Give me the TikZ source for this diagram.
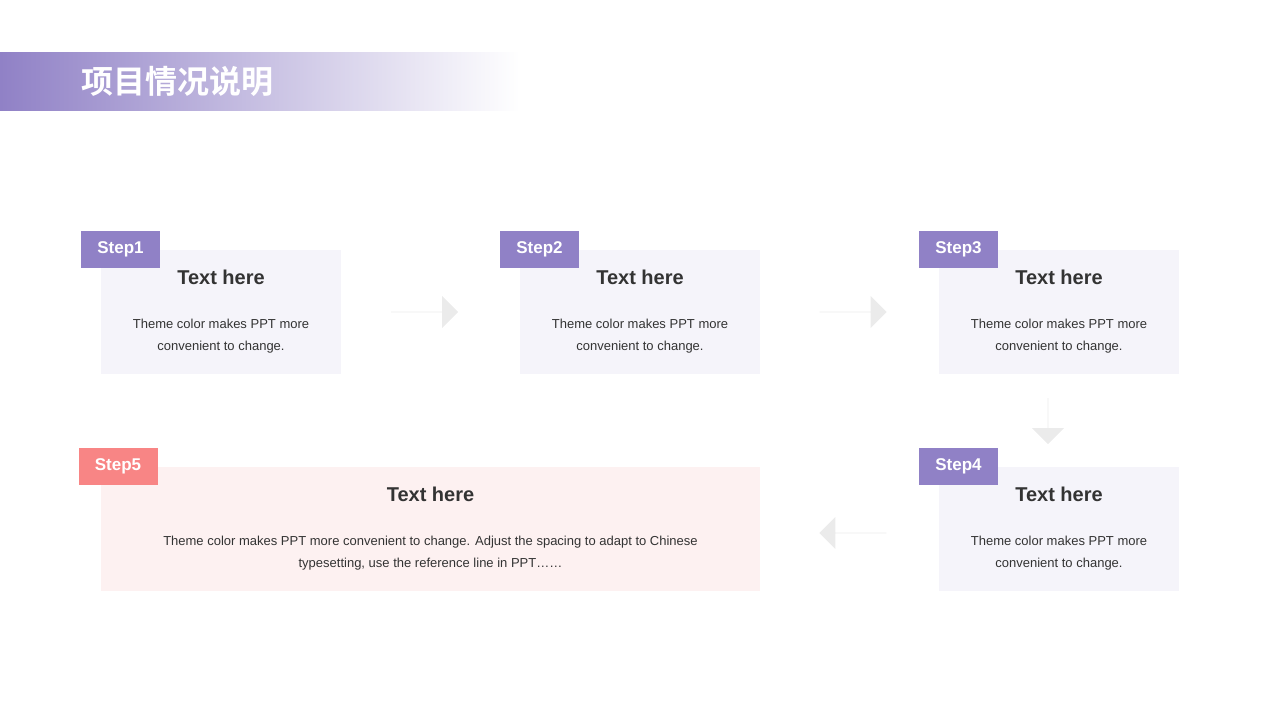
\documentclass[tikz,border=0pt]{standalone}
\usepackage{fontspec}
\setmainfont{Liberation Sans}
\newfontfamily\cjk{Noto Sans CJK SC Bold}
\usetikzlibrary{shapes.arrows}
\definecolor{themepurple}{HTML}{9081C6}
\definecolor{themered}{HTML}{F88585}
\definecolor{boxgray}{HTML}{F5F4FA}
\definecolor{boxpink}{HTML}{FDF1F1}
\definecolor{arrowgray}{HTML}{EBEBEB}
\definecolor{textdark}{HTML}{333333}
\tikzset{
  stepbox/.style={fill=boxgray, inner sep=0pt, minimum height=124pt},
  steptag/.style={fill=themepurple, text=white, font=\fontsize{17}{20}\selectfont\bfseries,
    minimum width=79pt, minimum height=37pt, inner sep=0pt},
  boxtitle/.style={text=textdark, font=\fontsize{20}{24}\selectfont\bfseries},
  boxbody/.style={text=textdark, font=\fontsize{13}{22}\selectfont, align=center},
  flowarrow/.style={single arrow, fill=arrowgray, minimum height=67pt, minimum width=32pt,
    single arrow head extend=8pt, inner sep=0pt}
}
\begin{document}
\begin{tikzpicture}[x=1pt, y=-1pt]
	\useasboundingbox (0,0) rectangle (1280,720);
	% title bar
	\shade[left color=themepurple, right color=white] (0,52) rectangle (520,110);
	\node [anchor=west, text=white, font=\fontsize{32}{36}\selectfont\cjk] (title) at (78,81) {项目情况说明};
	% boxes
	\node [stepbox, minimum width=240pt] (b1) at (221,312) {};
	\node [stepbox, minimum width=240pt] (b2) at (640,312) {};
	\node [stepbox, minimum width=240pt] (b3) at (1059,312) {};
	\node [stepbox, minimum width=240pt] (b4) at (1059,529) {};
	\node [stepbox, minimum width=659pt, fill=boxpink] (b5) at (430.5,529) {};
	% tags
	\node [steptag] (s1) at (120.5,249.5) {Step1};
	\node [steptag] (s2) at (539.5,249.5) {Step2};
	\node [steptag] (s3) at (958.5,249.5) {Step3};
	\node [steptag] (s4) at (958.5,466.5) {Step4};
	\node [steptag, fill=themered] (s5) at (118,466.5) {Step5};
	% texts
	\foreach \b in {b1,b2,b3,b4} {
		\node [boxtitle] at ([yshift=-28pt]\b.north) {Text here};
		\node [boxbody] at ([yshift=-86pt]\b.north) {Theme color makes PPT more\\convenient to change.};
	}
	\node [boxtitle] (t5) at ([yshift=-28pt]b5.north) {Text here};
	\node [boxbody] (d5) at ([yshift=-86pt]b5.north) {Theme color makes PPT more convenient to change. Adjust the spacing to adapt to Chinese\\typesetting, use the reference line in PPT……};
	% arrows
	\node [flowarrow] (a12) at (424.5,312) {};
	\node [flowarrow] (a23) at (853,312) {};
	\node [flowarrow, minimum height=46pt, shape border rotate=270] (a34) at (1048,421) {};
	\node [flowarrow, shape border rotate=180] (a45) at (853,533) {};
\end{tikzpicture}
\end{document}
